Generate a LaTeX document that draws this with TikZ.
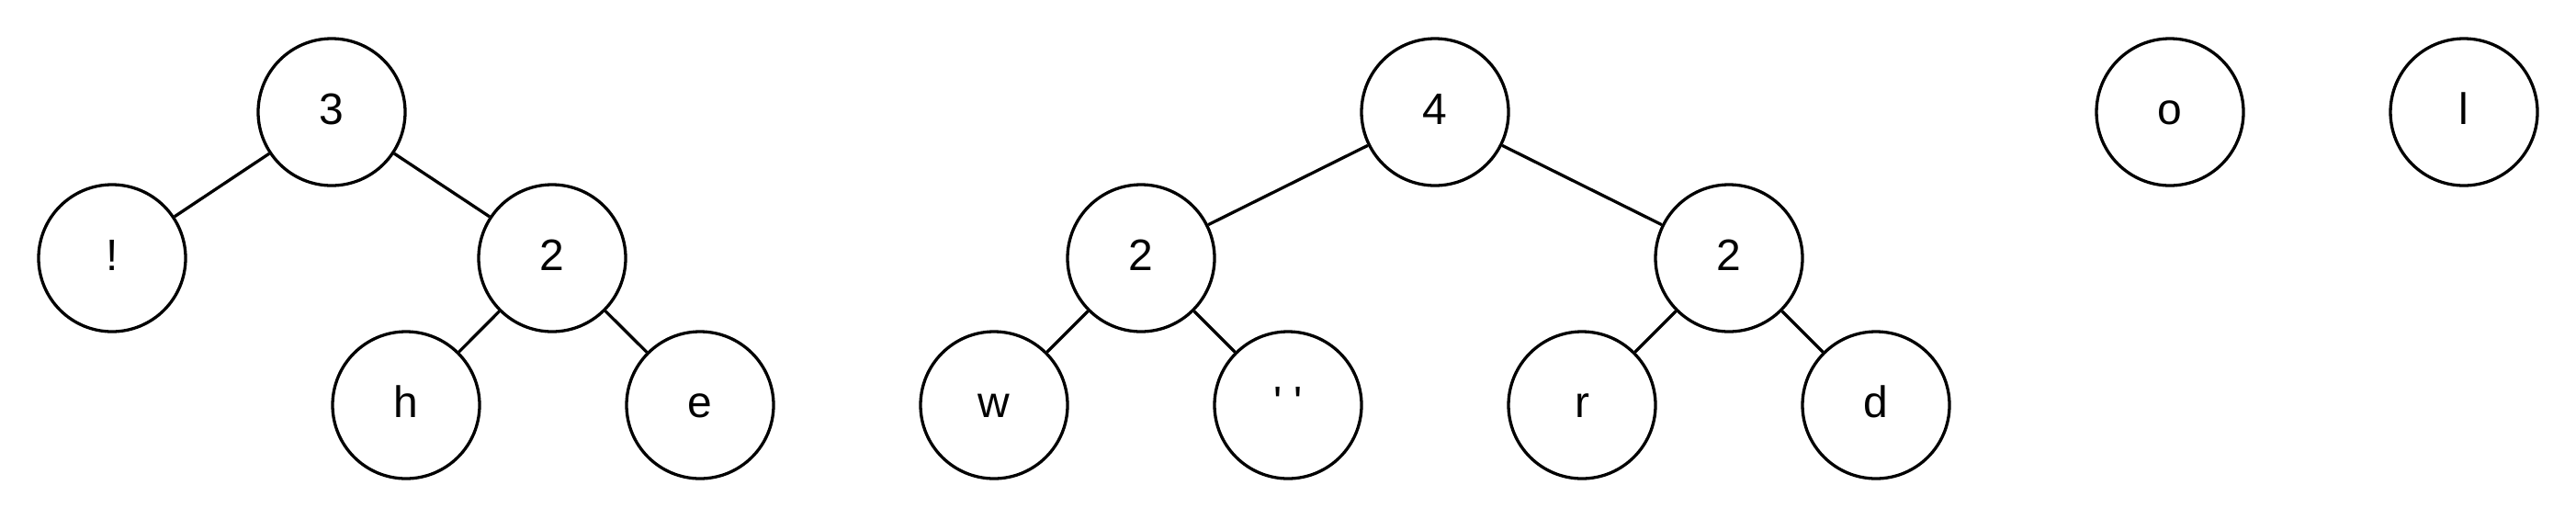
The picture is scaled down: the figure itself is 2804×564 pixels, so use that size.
\documentclass[tikz,border=0pt]{standalone}
\usepackage{fontspec}
\setmainfont{Liberation Sans}[Ligatures=TeXOff]
\begin{document}
\begin{tikzpicture}[x=0.5pt,y=-0.5pt,
  tn/.style={circle,draw=black,line width=1.65pt,minimum size=80pt,inner sep=0pt,
    font=\fontsize{24pt}{28pt}\selectfont,text height=13.5pt,text depth=0pt},
  edge/.style={line width=1.65pt}]
\useasboundingbox (0,0) rectangle (2804,564);
% tree 1
\node[tn] (t3) at (361,122) {3};
\node[tn] (ex) at (122,281) {!};
\node[tn] (a2) at (601,281) {2};
\node[tn] (h) at (442,441) {h};
\node[tn] (e) at (762,441) {e};
% tree 2
\node[tn] (t4) at (1562,122) {4};
\node[tn] (b2) at (1242,281) {2};
\node[tn] (c2) at (1882,281) {2};
\node[tn] (w) at (1082,441) {w};
\node[tn] (sp) at (1402,441) {' '};
\node[tn] (r) at (1722,441) {r};
\node[tn] (d) at (2042,441) {d};
% singles
\node[tn] (o) at (2362,122) {o};
\node[tn] (l) at (2682,122) {l};
% edges
\draw[edge] (t3) -- (ex);
\draw[edge] (t3) -- (a2);
\draw[edge] (a2) -- (h);
\draw[edge] (a2) -- (e);
\draw[edge] (t4) -- (b2);
\draw[edge] (t4) -- (c2);
\draw[edge] (b2) -- (w);
\draw[edge] (b2) -- (sp);
\draw[edge] (c2) -- (r);
\draw[edge] (c2) -- (d);
\end{tikzpicture}
\end{document}
